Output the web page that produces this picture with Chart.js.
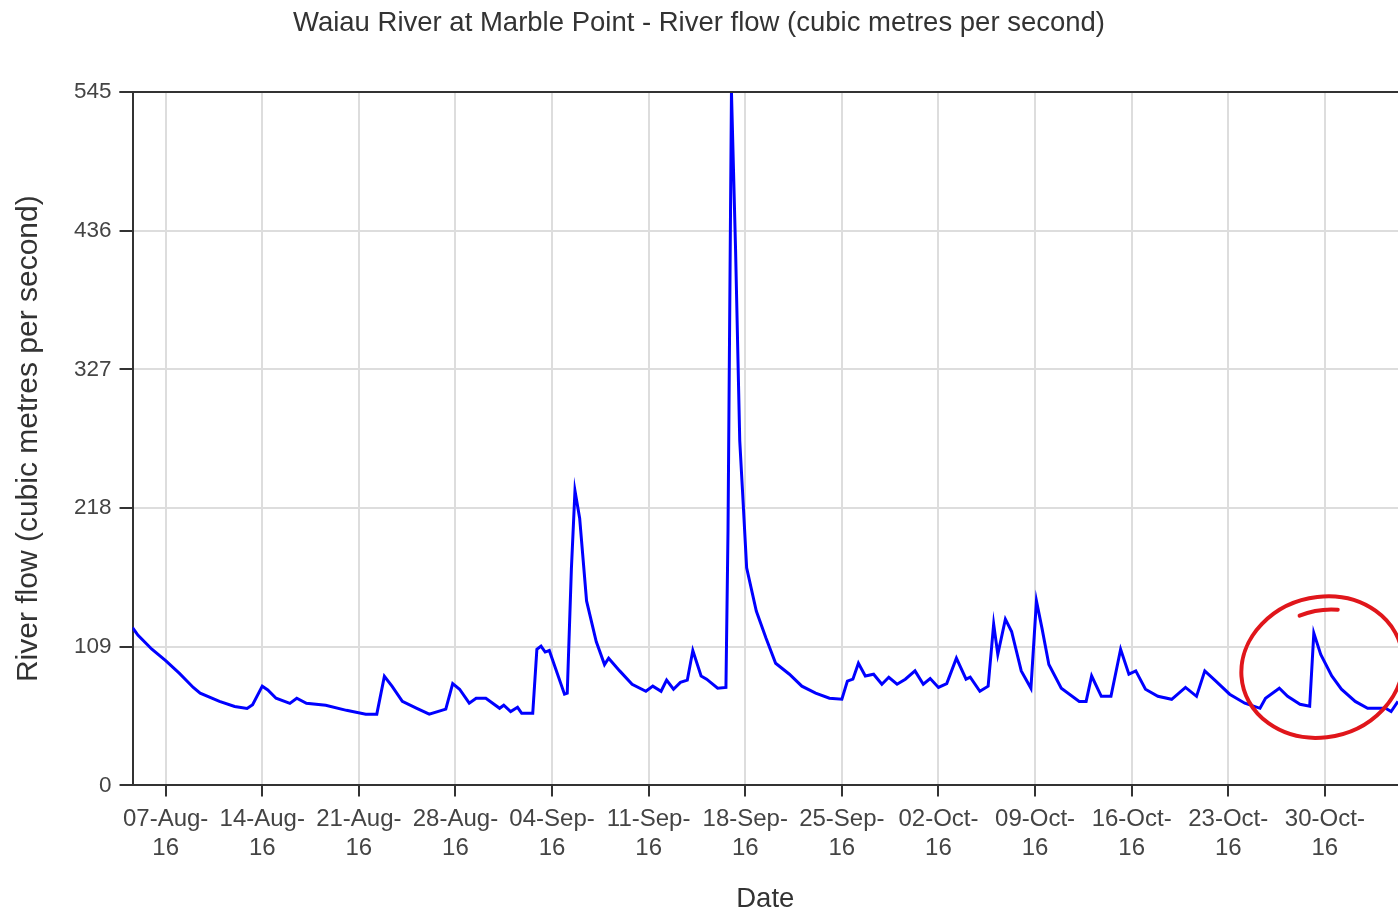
<!DOCTYPE html>
<html>
<head>
<meta charset="utf-8">
<script src="https://cdn.jsdelivr.net/npm/chart.js@4.4.1/dist/chart.umd.min.js"></script>
<style>
  body{margin:0;background:#fff;}
  #wrap{width:1398px;height:916px;position:relative;}
</style>
</head>
<body>
<div id="wrap"><canvas id="flowChart"></canvas></div>
<script>
// days counted from 07-Aug-2016
const baseDate = Date.UTC(2016, 7, 7);
const days = [
  -2.4, -2.0, -1.0, 0.0, 1.0, 2.0, 2.5, 3.9, 5.0, 5.9, 6.3, 7.0, 7.4, 8.0, 9.0, 9.5,
  10.2, 11.6, 13.1, 14.5, 15.3, 15.85, 16.4, 17.15, 18.2, 19.1, 20.3, 20.8, 21.3, 22.0,
  22.5, 23.2, 24.2, 24.5, 25.0, 25.5, 25.8, 26.6, 26.9, 27.2, 27.5, 27.8, 28.9, 29.1,
  29.4, 29.66, 30.0, 30.5, 31.2, 31.8, 32.1, 32.9, 33.8, 34.8, 35.3, 35.9, 36.3, 36.8,
  37.3, 37.8, 38.2, 38.8, 39.2, 40.0, 40.6, 40.75, 41.0, 41.3, 41.6, 41.8, 42.1, 42.8,
  43.5, 44.2, 45.2, 46.1, 47.1, 48.1, 49.0, 49.4, 49.8, 50.2, 50.7, 51.3, 51.9, 52.4,
  53.0, 53.6, 54.3, 54.9, 55.4, 56.0, 56.6, 57.3, 58.0, 58.3, 59.0, 59.6, 60.0, 60.3,
  60.85, 61.3, 62.0, 62.7, 63.1, 63.5, 64.0, 64.9, 66.2, 66.7, 67.1, 67.8, 68.5, 69.2,
  69.8, 70.3, 71.0, 71.9, 72.9, 73.9, 74.7, 75.3, 76.1, 77.1, 78.2, 79.3, 79.7, 80.7,
  81.3, 82.2, 82.9, 83.2, 83.7, 84.5, 85.2, 86.2, 87.1, 88.4, 88.8, 89.3
];
const flows = [
  124, 118, 107, 98, 88, 77, 72.5, 66, 62, 60.5, 63.5, 78, 75, 68.5, 64.5, 68.5,
  64.5, 63, 59, 56, 56, 85.8, 78, 66, 60.5, 56, 60, 80, 75.6, 64.6,
  68.5, 68.5, 60.6, 63, 58, 61.4, 56.7, 56.7, 107, 109.5, 104.8, 106, 71.7, 72.5,
  170, 231.6, 210, 145, 113, 95, 100, 90, 79.5, 74, 78, 74, 82.7, 75.6,
  81, 82.7, 106, 86, 83.5, 76.4, 77, 200, 545, 420, 271, 231.6, 171, 137,
  115.8, 96, 87.4, 78, 72.5, 68.5, 67.7, 82, 83.5, 96, 86, 87.4, 79.5, 85,
  79.5, 83.5, 90, 79.5, 84, 77, 80, 100, 83.5, 85, 74, 78, 126.8, 103,
  130.7, 121, 90, 76.4, 145, 123.6, 95, 76.4, 66, 66, 86, 70, 70, 107,
  87.4, 90, 75.6, 70, 67.7, 77, 70, 90, 82, 71.7, 64.6, 60.6, 68.5, 76.4,
  70, 63.8, 62.2, 119.7, 103, 86, 75.6, 66, 60.6, 60.6, 58, 66
];
const xTickDays = [0, 7, 14, 21, 28, 35, 42, 49, 56, 63, 70, 77, 84];
const yTicks = [0, 109, 218, 327, 436, 545];
const months = ['Jan','Feb','Mar','Apr','May','Jun','Jul','Aug','Sep','Oct','Nov','Dec'];

// hand-drawn red ring around the late-October rise (data units)
const ringCenter = { x: 83.8, y: 93 };
const ringRadius = { days: 5.9, flow: 55 };

const fontFamily = "'Liberation Sans', Arial, sans-serif";

function fmtDay(d){
  const dt = new Date(baseDate + d * 86400000);
  const dd = String(dt.getUTCDate()).padStart(2, '0');
  return [dd + '-' + months[dt.getUTCMonth()] + '-', String(dt.getUTCFullYear()).slice(2)];
}

const extras = {
  id: 'extras',
  afterDraw(chart){
    const { ctx, chartArea, scales } = chart;
    ctx.save();
    // top frame line
    ctx.strokeStyle = '#333';
    ctx.lineWidth = 2;
    ctx.beginPath();
    ctx.moveTo(chartArea.left - 13, chartArea.top);
    ctx.lineTo(chartArea.right, chartArea.top);
    ctx.stroke();
    // red ring
    const cx = scales.x.getPixelForValue(ringCenter.x);
    const cy = scales.y.getPixelForValue(ringCenter.y);
    const rx = scales.x.getPixelForValue(ringCenter.x + ringRadius.days) - cx;
    const ry = cy - scales.y.getPixelForValue(ringCenter.y + ringRadius.flow);
    ctx.strokeStyle = '#e0161b';
    ctx.lineWidth = 4;
    ctx.lineCap = 'round';
    ctx.beginPath();
    ctx.ellipse(cx, cy, rx, ry, -0.25, Math.PI * 1.55, Math.PI * 3.6);
    ctx.stroke();
    // little overlapping hook at the top
    ctx.beginPath();
    ctx.ellipse(cx + 4, cy + 6, rx * 0.9, ry * 0.9, -0.25, Math.PI * 1.45, Math.PI * 1.62);
    ctx.stroke();
    ctx.restore();
  }
};

new Chart(document.getElementById('flowChart'), {
  type: 'line',
  data: {
    datasets: [{
      data: days.map((d, i) => ({ x: d, y: flows[i] })),
      borderColor: '#0000ff',
      borderWidth: 3,
      pointRadius: 0,
      tension: 0,
      fill: false
    }]
  },
  options: {
    responsive: true,
    maintainAspectRatio: false,
    animation: false,
    layout: { padding: { top: 0, right: 0, bottom: 0, left: 0 } },
    plugins: {
      legend: { display: false },
      tooltip: { enabled: false },
      title: {
        display: true,
        text: 'Waiau River at Marble Point - River flow (cubic metres per second)',
        color: '#333',
        font: { family: fontFamily, size: 27.5, weight: 'normal' },
        padding: { top: 7, bottom: 52 }
      }
    },
    scales: {
      x: {
        type: 'linear',
        min: -2.4,
        max: 89.3,
        afterBuildTicks: axis => { axis.ticks = xTickDays.map(v => ({ value: v })); },
        ticks: {
          autoSkip: false,
          maxRotation: 0,
          color: '#444',
          padding: 9,
          font: { family: fontFamily, size: 24 },
          callback: v => fmtDay(v)
        },
        grid: { color: '#ddd', lineWidth: 2, tickColor: '#333', tickLength: 11, tickWidth: 2 },
        border: { display: true, color: '#333', width: 2 },
        title: {
          display: true,
          text: 'Date',
          color: '#333',
          font: { family: fontFamily, size: 27.5 },
          padding: { top: 11, bottom: 0 }
        }
      },
      y: {
        min: 0,
        max: 545,
        afterBuildTicks: axis => { axis.ticks = yTicks.map(v => ({ value: v })); },
        ticks: {
          color: '#444',
          padding: 8,
          font: { family: fontFamily, size: 22.5 }
        },
        grid: { color: '#ddd', lineWidth: 2, tickColor: '#333', tickLength: 13, tickWidth: 2 },
        border: { display: true, color: '#333', width: 2 },
        title: {
          display: true,
          text: 'River flow (cubic metres per second)',
          color: '#333',
          font: { family: fontFamily, size: 30 },
          padding: { top: 11, bottom: 19 }
        }
      }
    }
  },
  plugins: [extras]
});
</script>
</body>
</html>
